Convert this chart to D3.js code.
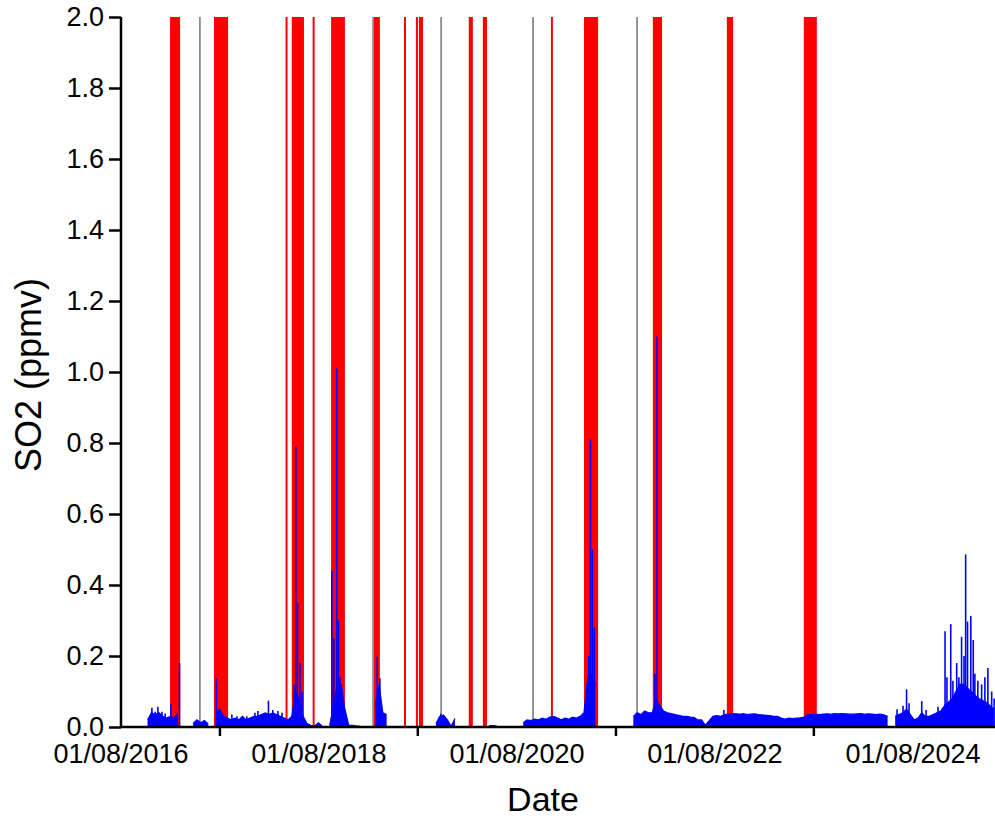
<!DOCTYPE html>
<html>
<head>
<meta charset="utf-8">
<script src="https://cdn.jsdelivr.net/npm/d3@7"></script>
<style>
  html, body { margin: 0; padding: 0; background: #fff; }
  svg { display: block; }
  text { font-family: Arial, "Liberation Sans", sans-serif; fill: #000; }
</style>
</head>
<body>
<svg id="chart" width="995" height="826"></svg>
<script>
// ---------------- data ----------------
const yTickValues = [0, 0.2, 0.4, 0.6, 0.8, 1.0, 1.2, 1.4, 1.6, 1.8, 2.0];
const xLabelDates = ["2016-08-01", "2018-08-01", "2020-08-01", "2022-08-01", "2024-08-01"];
const xTickDates = ["2017-08-01", "2019-08-01", "2021-08-01", "2023-08-01"];

// red highlighted periods [start, end]
const redPeriods = [
  ["2017-01-29", "2017-03-07"],
  ["2017-07-10", "2017-08-31"],
  ["2018-03-31", "2018-04-07"],
  ["2018-04-23", "2018-06-07"],
  ["2018-07-09", "2018-07-16"],
  ["2018-09-15", "2018-11-05"],
  ["2019-02-20", "2019-03-14"],
  ["2019-06-11", "2019-06-18"],
  ["2019-07-25", "2019-07-30"],
  ["2019-08-05", "2019-08-20"],
  ["2020-02-05", "2020-02-20"],
  ["2020-03-28", "2020-04-12"],
  ["2020-12-04", "2020-12-11"],
  ["2021-04-05", "2021-05-27"],
  ["2021-12-15", "2022-01-18"],
  ["2022-09-14", "2022-10-07"],
  ["2023-06-25", "2023-08-12"]
];
// grey marker dates
const greyDates = ["2017-05-19", "2019-02-17", "2019-10-26", "2020-09-29", "2021-10-18"];

// SO2 background level, one value every 14 days from seriesStart (null = no data)
const seriesStart = "2016-08-01";
const seriesStepDays = 14;
const so2Level = [
  null, null, null, null, null, null, null, 0.02, 0.04, 0.035,
  0.04, 0.03, 0.025, 0.03, 0.025, 0.04, null, null, null, 0.01,
  0.02, 0.012, 0.018, 0.008, null, 0.04, 0.05, 0.03, 0.025, 0.02,
  0.025, 0.02, 0.03, 0.02, 0.025, 0.03, 0.03, 0.035, 0.04, 0.035,
  0.04, 0.035, 0.03, 0.025, 0.02, 0.03, 0.1, 0.08, 0.03, 0.01,
  0.005, 0.003, 0.012, 0.003, null, 0.005, 0.06, 0.12, 0.12, 0.05,
  0.005, 0.005, 0.003, 0.002, null, null, null, 0.06, 0.12, 0.04,
  0.035, null, null, null, null, null, null, null, null, null,
  null, null, null, 0.01, 0.03, 0.033, 0.02, 0.002, 0.024, null,
  null, null, null, null, null, null, null, 0.004, 0.004, 0.003,
  null, null, null, null, null, null, 0.012, 0.02, 0.018, 0.022,
  0.02, 0.025, 0.022, 0.028, 0.03, 0.025, 0.02, 0.025, 0.022, 0.028,
  0.025, 0.03, 0.04, 0.14, 0.15, 0.12, null, 0.01, null, null,
  0.025, null, null, null, null, 0.03, 0.04, 0.035, 0.045, 0.04,
  0.04, 0.08, 0.06, 0.045, 0.04, 0.038, 0.035, 0.033, 0.03, 0.03,
  0.028, 0.027, 0.02, 0.02, 0.005, 0.018, 0.03, 0.032, 0.03, 0.035,
  0.036, 0.038, 0.037, 0.036, 0.038, 0.035, 0.036, 0.037, 0.035, 0.034,
  0.033, 0.032, 0.03, 0.03, 0.025, 0.022, 0.025, 0.024, 0.025, 0.026,
  0.028, 0.034, 0.035, 0.036, 0.035, 0.036, 0.037, 0.036, 0.038, 0.037,
  0.038, 0.037, 0.036, 0.036, 0.037, 0.038, 0.036, 0.037, 0.036, 0.035,
  0.036, 0.034, 0.03, null, 0.03, 0.035, 0.04, 0.05, 0.035, 0.02,
  0.025, 0.04, 0.03, 0.03, 0.035, 0.04, 0.045, 0.06, 0.07, 0.08,
  0.1, 0.12, 0.12, 0.11, 0.1, 0.09, 0.08, 0.075, 0.07, 0.06,
  0.05
];

// individual SO2 peaks [date, ppmv]
const so2Peaks = [
  ["2016-11-23", 0.054], ["2016-12-05", 0.043], ["2016-12-15", 0.057], ["2016-12-30", 0.043],
  ["2017-01-11", 0.038], ["2017-02-01", 0.065], ["2017-03-05", 0.18], ["2017-07-19", 0.137],
  ["2017-09-14", 0.035], ["2017-10-03", 0.03], ["2017-11-08", 0.03], ["2017-12-08", 0.04],
  ["2017-12-19", 0.045], ["2018-01-27", 0.074], ["2018-02-12", 0.048], ["2018-03-03", 0.045],
  ["2018-03-18", 0.04], ["2018-05-01", 0.12], ["2018-05-08", 0.79], ["2018-05-14", 0.35],
  ["2018-05-23", 0.18], ["2018-05-31", 0.1], ["2018-09-18", 0.44], ["2018-09-25", 0.25],
  ["2018-10-06", 1.01], ["2018-10-12", 0.3], ["2018-10-18", 0.14], ["2018-10-25", 0.1],
  ["2019-03-04", 0.198], ["2019-03-14", 0.137], ["2019-10-25", 0.037],
  ["2021-04-23", 0.2], ["2021-04-29", 0.81], ["2021-05-06", 0.5], ["2021-05-13", 0.28],
  ["2021-12-23", 0.15], ["2021-12-30", 1.1], ["2022-09-03", 0.048],
  ["2024-06-03", 0.05], ["2024-06-25", 0.06], ["2024-07-08", 0.106], ["2024-07-17", 0.067],
  ["2024-09-02", 0.073], ["2024-09-18", 0.048], ["2024-11-01", 0.057], ["2024-11-27", 0.27],
  ["2024-12-04", 0.14], ["2024-12-18", 0.29], ["2024-12-26", 0.13], ["2025-01-09", 0.18],
  ["2025-01-17", 0.14], ["2025-01-27", 0.254], ["2025-02-05", 0.2], ["2025-02-11", 0.486],
  ["2025-02-18", 0.297], ["2025-03-02", 0.313], ["2025-03-11", 0.245], ["2025-03-17", 0.15],
  ["2025-03-28", 0.13], ["2025-04-11", 0.12], ["2025-04-23", 0.14], ["2025-05-04", 0.166],
  ["2025-05-18", 0.1], ["2025-05-27", 0.08]
];

const yLabel = "SO2 (ppmv)";
const xLabel = "Date";

// ---------------- drawing ----------------
const parse = d3.utcParse("%Y-%m-%d");
const fmt = d3.utcFormat("%d/%m/%Y");
const svg = d3.select("#chart");

const plotLeft = 121, plotTop = 17, plotBottom = 727;
const x = d3.scaleUtc()
  .domain([parse("2016-08-01"), parse("2025-08-01")])
  .range([plotLeft, plotLeft + 198 * 4.5]);
const y = d3.scaleLinear().domain([0, 2]).range([plotBottom, plotTop]);

svg.append("defs").append("clipPath").attr("id", "plotclip")
  .append("rect").attr("x", plotLeft).attr("y", plotTop)
  .attr("width", 995 - plotLeft).attr("height", plotBottom - plotTop);

const plot = svg.append("g").attr("clip-path", "url(#plotclip)");

// red periods
plot.selectAll("rect.red").data(redPeriods).enter().append("rect")
  .attr("class", "red")
  .attr("x", d => x(parse(d[0])))
  .attr("width", d => Math.max(2, x(parse(d[1])) - x(parse(d[0]))))
  .attr("y", y(2)).attr("height", y(0) - y(2))
  .attr("fill", "#ff0000");

// grey markers
plot.selectAll("line.grey").data(greyDates).enter().append("line")
  .attr("x1", d => x(parse(d))).attr("x2", d => x(parse(d)))
  .attr("y1", y(2)).attr("y2", y(0))
  .attr("stroke", "#8a8a8a").attr("stroke-width", 1.8);

// series
const start = parse(seriesStart);
const levelData = so2Level.map((v, i) => ({ date: d3.utcDay.offset(start, i * seriesStepDays), v }));

const area = d3.area()
  .defined(d => d.v !== null)
  .x(d => x(d.date)).y0(y(0)).y1(d => y(d.v));
plot.append("path").datum(levelData).attr("d", area).attr("fill", "#0000ff");

const line = d3.line()
  .defined(d => d.v !== null)
  .x(d => x(d.date)).y(d => y(d.v));
plot.append("path").datum(levelData).attr("d", line)
  .attr("fill", "none").attr("stroke", "#0000ff").attr("stroke-width", 1.2);

plot.selectAll("line.peak").data(so2Peaks).enter().append("line")
  .attr("x1", d => x(parse(d[0]))).attr("x2", d => x(parse(d[0])))
  .attr("y1", y(0)).attr("y2", d => y(d[1]))
  .attr("stroke", "#0000ff").attr("stroke-width", 1.6);

// y axis
const yAxis = d3.axisLeft(y).tickValues(yTickValues).tickFormat(d3.format(".1f"))
  .tickSize(12).tickPadding(5);
const gy = svg.append("g").attr("transform", `translate(${plotLeft},0)`).call(yAxis);
gy.select(".domain").attr("stroke", "#000").attr("stroke-width", 2.5).attr("d", `M0,${plotTop}V${plotBottom}`);
gy.selectAll(".tick line").attr("stroke", "#000").attr("stroke-width", 2.5);
gy.selectAll(".tick text").attr("font-size", 27).style("font-family", "Arial, 'Liberation Sans', sans-serif");

// x axis line
svg.append("line").attr("x1", plotLeft).attr("x2", 995)
  .attr("y1", plotBottom).attr("y2", plotBottom)
  .attr("stroke", "#000").attr("stroke-width", 2.5);
// x ticks (unlabelled)
svg.selectAll("line.xt").data(xTickDates).enter().append("line")
  .attr("x1", d => x(parse(d))).attr("x2", d => x(parse(d)))
  .attr("y1", plotBottom).attr("y2", plotBottom + 9)
  .attr("stroke", "#000").attr("stroke-width", 2.5);
// x labels
svg.selectAll("text.xl").data(xLabelDates).enter().append("text")
  .attr("x", d => x(parse(d))).attr("y", plotBottom + 36)
  .attr("text-anchor", "middle").attr("font-size", 27)
  .text(d => fmt(parse(d)));

// titles
svg.append("text").attr("transform", `translate(41,375) rotate(-90)`)
  .attr("text-anchor", "middle").attr("font-size", 36).text(yLabel);
svg.append("text").attr("x", 543).attr("y", 811)
  .attr("text-anchor", "middle").attr("font-size", 34).text(xLabel);
</script>
</body>
</html>
